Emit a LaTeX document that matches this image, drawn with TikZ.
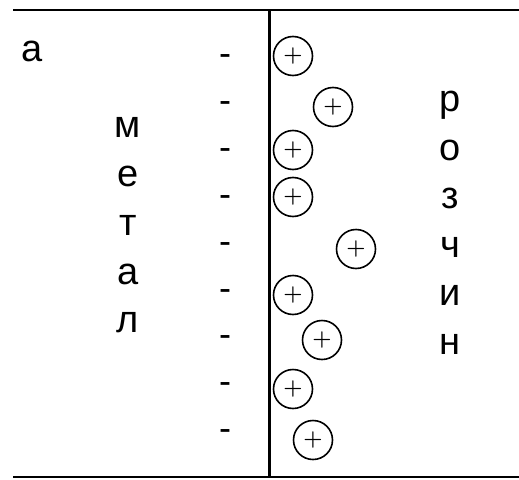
\documentclass[tikz,border=0pt]{standalone}
\usepackage{fontspec}
\setsansfont{Liberation Sans}
\begin{document}
\begin{tikzpicture}[x=1pt,y=-1pt,
  ion/.style={circle,draw,line width=1.6pt,minimum size=39pt,inner sep=0pt,font=\rmfamily\bfseries\fontsize{22}{22}\selectfont},
  lett/.style={anchor=base,inner sep=0pt,font=\sffamily\fontsize{38}{38}\selectfont},
  neg/.style={anchor=base,inner sep=0pt,font=\sffamily\fontsize{36}{36}\selectfont},
  wall/.style={line width=2.2pt}]
\useasboundingbox (0,0) rectangle (519,479);
\coordinate (tl) at (13,10);
\coordinate (tr) at (519,10);
\coordinate (bl) at (13,477);
\coordinate (br) at (519,477);
\coordinate (vt) at (269.5,10);
\coordinate (vb) at (269.5,477);
\draw[wall] (tl) -- (tr);
\draw[wall] (bl) -- (br);
\draw[wall] (vt) -- (vb);
% label
\node[lett] (a) at (32,61) {а};
% metal
\node[lett] (m1) at (128,137.9) {м};
\node[lett] (m2) at (128,186.6) {е};
\node[lett] (m3) at (128,235.3) {т};
\node[lett] (m4) at (128,284) {а};
\node[lett] (m5) at (128,332.9) {л};
% solution
\node[lett] (r1) at (450,111.4) {р};
\node[lett] (r2) at (450,160) {о};
\node[lett] (r3) at (450,208.6) {з};
\node[lett] (r4) at (450,257.2) {ч};
\node[lett] (r5) at (450,305.8) {и};
\node[lett] (r6) at (450,354.4) {н};
% negative charges
\foreach \i in {0,...,8}{
  \node[neg] (n\i) at (225,{65.5+46.9*\i}) {-};
}
% positive ions
\node[ion] (p1) at (293,56) {+};
\node[ion] (p2) at (333,107) {+};
\node[ion] (p3) at (293,150) {+};
\node[ion] (p4) at (293,197) {+};
\node[ion] (p5) at (356,249) {+};
\node[ion] (p6) at (293,295) {+};
\node[ion] (p7) at (322,340) {+};
\node[ion] (p8) at (293,389) {+};
\node[ion] (p9) at (313,440) {+};
\end{tikzpicture}
\end{document}
